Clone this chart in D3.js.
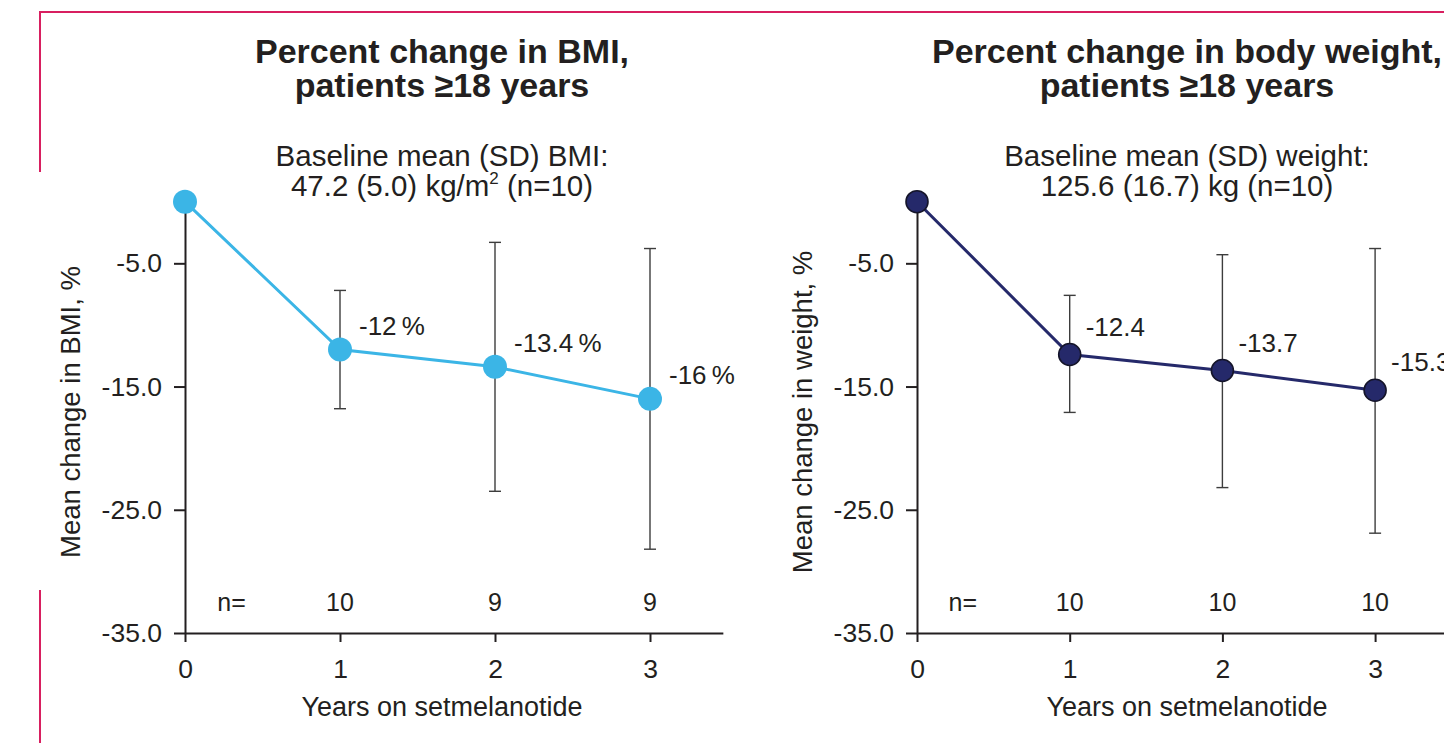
<!DOCTYPE html>
<html>
<head>
<meta charset="utf-8">
<script src="https://cdn.jsdelivr.net/npm/d3@7"></script>
<style>
  body { margin: 0; background: #fff; }
  svg { display: block; font-family: "Liberation Sans", Arial, Helvetica, sans-serif; }
</style>
</head>
<body>
<figure id="chart" style="margin:0"></figure>
<script>
// data
const years = [0, 1, 2, 3];
const yTicks = [-5, -15, -25, -35];

const bmiMean = [0, -12, -13.4, -16];
const bmiHigh = [null, -7.2, -3.3, -3.8];
const bmiLow = [null, -16.8, -23.5, -28.2];
const bmiN = [10, 9, 9];
const bmiLabels = ["-12\u2009%", "-13.4\u2009%", "-16\u2009%"];

const weightMean = [0, -12.4, -13.7, -15.3];
const weightHigh = [null, -7.6, -4.3, -3.8];
const weightLow = [null, -17.1, -23.2, -26.9];
const weightN = [10, 10, 10];
const weightLabels = ["-12.4", "-13.7", "-15.3"];

const width = 1444, height = 743;
const ink = "#231f20";

const svg = d3.select("figure#chart")
  .append("svg")
  .attr("width", width)
  .attr("height", height);

// pink frame
svg.append("path")
  .attr("d", "M40,172V12H1444")
  .attr("fill", "none")
  .attr("stroke", "#d81f60")
  .attr("stroke-width", 2);
svg.append("line")
  .attr("x1", 40).attr("x2", 40)
  .attr("y1", 590).attr("y2", 743)
  .attr("stroke", "#d81f60")
  .attr("stroke-width", 2);

function drawPanel(p) {
  const g = svg.append("g");

  const x = d3.scaleLinear().domain([0, 3.47]).range([p.left, p.left + 3.47 * p.step]);
  const y = d3.scaleLinear().domain([0, -35]).range([201.7, 633]);

  // titles
  const title = g.append("text")
    .attr("text-anchor", "middle")
    .attr("font-weight", "bold")
    .attr("font-size", 34)
    .attr("fill", ink);
  title.append("tspan").attr("x", p.cx).attr("y", 63).text(p.title[0]);
  title.append("tspan").attr("x", p.cx).attr("y", 97).text(p.title[1]);

  const sub = g.append("text")
    .attr("text-anchor", "middle")
    .attr("font-size", 29.5)
    .attr("fill", ink);
  sub.append("tspan").attr("x", p.cx).attr("y", 166).text(p.sub[0]);
  const sub2 = sub.append("tspan").attr("x", p.cx).attr("y", 196);
  p.sub2(sub2);

  // axes
  const yAxis = g.append("g")
    .attr("transform", "translate(" + p.left + ",0)")
    .call(d3.axisLeft(y).tickValues(yTicks).tickFormat(d3.format(".1f")).tickSize(11).tickSizeOuter(0).tickPadding(12));
  const xAxis = g.append("g")
    .attr("transform", "translate(0,633)")
    .call(d3.axisBottom(x).tickValues(years).tickFormat(d3.format("d")).tickSize(9).tickSizeOuter(0).tickPadding(17));
  [yAxis, xAxis].forEach(a => {
    a.selectAll("path, line").attr("stroke", ink).attr("stroke-width", 2);
    a.selectAll("text").attr("font-size", 26.5).attr("fill", ink).attr("font-family", null);
  });
  yAxis.selectAll("text").text(d => d3.format(".1f")(d).replace("\u2212", "-"));

  g.append("text")
    .attr("transform", "translate(" + p.yLabelX + ",412)rotate(-90)")
    .attr("text-anchor", "middle")
    .attr("font-size", 27.5)
    .attr("fill", ink)
    .text(p.yLabel);

  g.append("text")
    .attr("x", p.cx)
    .attr("y", 716)
    .attr("text-anchor", "middle")
    .attr("font-size", 27)
    .attr("fill", ink)
    .text("Years on setmelanotide");

  // n row
  g.append("text")
    .attr("x", x(0.3)).attr("y", 611)
    .attr("text-anchor", "middle")
    .attr("font-size", 25)
    .attr("fill", ink)
    .text("n=");
  g.selectAll(".n")
    .data(p.n)
    .enter()
    .append("text")
    .attr("x", (d, i) => x(years[i + 1]))
    .attr("y", 611)
    .attr("text-anchor", "middle")
    .attr("font-size", 25)
    .attr("fill", ink)
    .text(d => d);

  // error bars
  const bars = years.map((yr, i) => ({ yr: yr, lo: p.low[i], hi: p.high[i] })).filter(d => d.lo != null);
  const eb = g.selectAll(".err").data(bars).enter().append("g")
    .attr("stroke", "#3d3d3d").attr("stroke-width", 1.4);
  eb.append("line")
    .attr("x1", d => x(d.yr)).attr("x2", d => x(d.yr))
    .attr("y1", d => y(d.hi)).attr("y2", d => y(d.lo));
  eb.append("line")
    .attr("x1", d => x(d.yr) - 6).attr("x2", d => x(d.yr) + 6)
    .attr("y1", d => y(d.hi)).attr("y2", d => y(d.hi));
  eb.append("line")
    .attr("x1", d => x(d.yr) - 6).attr("x2", d => x(d.yr) + 6)
    .attr("y1", d => y(d.lo)).attr("y2", d => y(d.lo));

  // line + points
  const pts = years.map((yr, i) => ({ yr: yr, v: p.mean[i] }));
  g.append("path")
    .datum(pts)
    .attr("fill", "none")
    .attr("stroke", p.color)
    .attr("stroke-width", 3)
    .attr("d", d3.line().x(d => x(d.yr)).y(d => y(d.v)));
  g.selectAll(".pt")
    .data(pts)
    .enter()
    .append("circle")
    .attr("cx", d => x(d.yr))
    .attr("cy", d => y(d.v))
    .attr("r", p.r)
    .attr("fill", p.color)
    .attr("stroke", p.stroke)
    .attr("stroke-width", p.stroke === "none" ? 0 : 1.6);

  // value labels
  g.selectAll(".lbl")
    .data(p.labels)
    .enter()
    .append("text")
    .attr("x", (d, i) => x(years[i + 1]) + p.dx)
    .attr("y", (d, i) => y(p.mean[i + 1]) + p.dy)
    .attr("dominant-baseline", "central")
    .attr("font-size", 26)
    .attr("fill", ink)
    .text(d => d);
}

drawPanel({
  left: 185, step: 155, cx: 442, yLabelX: 80,
  title: ["Percent change in BMI,", "patients \u226518 years"],
  sub: ["Baseline mean (SD) BMI:"],
  sub2: t => {
    t.append("tspan").text("47.2 (5.0) kg/m");
    t.append("tspan").attr("font-size", 17).attr("dy", -12).text("2");
    t.append("tspan").attr("dy", 12).text(" (n=10)");
  },
  yLabel: "Mean change in BMI, %",
  mean: bmiMean, high: bmiHigh, low: bmiLow, n: bmiN, labels: bmiLabels,
  color: "#3bb5e6", stroke: "none", r: 12, dx: 19, dy: -24
});

drawPanel({
  left: 917, step: 152.7, cx: 1187, yLabelX: 812,
  title: ["Percent change in body weight,", "patients \u226518 years"],
  sub: ["Baseline mean (SD) weight:"],
  sub2: t => t.text("125.6 (16.7) kg (n=10)"),
  yLabel: "Mean change in weight, %",
  mean: weightMean, high: weightHigh, low: weightLow, n: weightN, labels: weightLabels,
  color: "#25296a", stroke: "#15152a", r: 11, dx: 16, dy: -28
});
</script>
</body>
</html>
